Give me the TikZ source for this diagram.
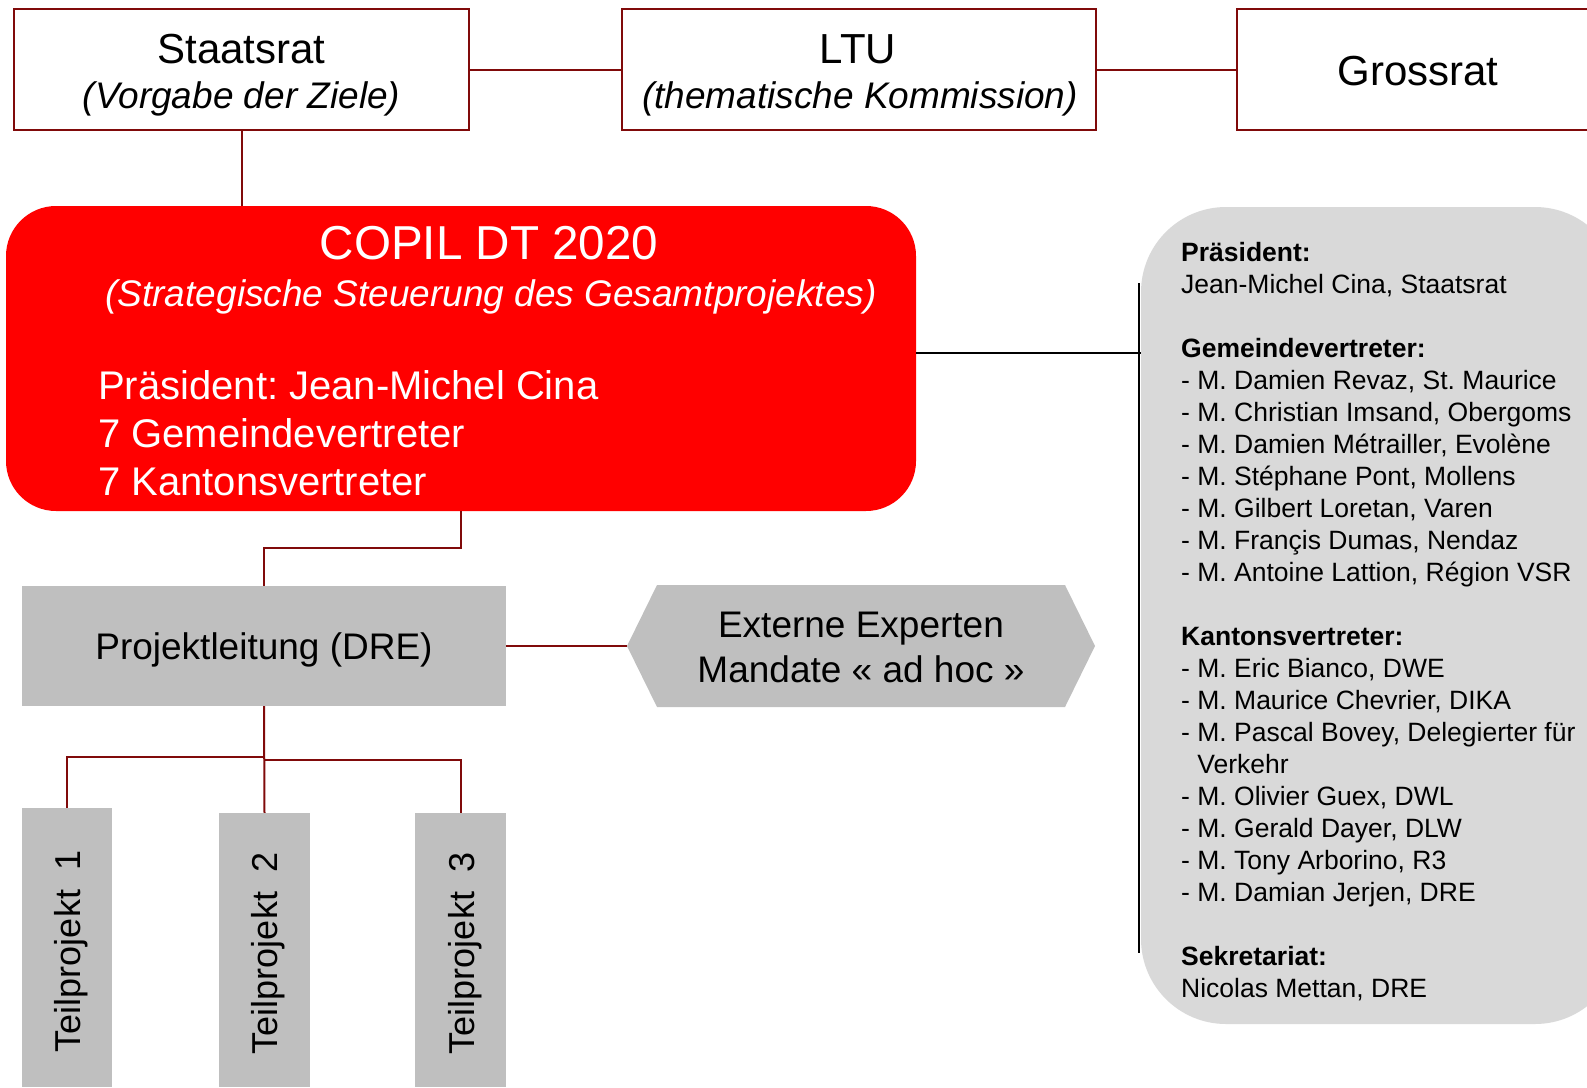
\documentclass[tikz,border=0pt]{standalone}
\usepackage{fontspec}
\setmainfont{Liberation Sans}
\frenchspacing
\definecolor{dred}{RGB}{128,10,10}
\definecolor{copilred}{RGB}{255,0,0}
\definecolor{pgray}{RGB}{191,191,191}
\definecolor{lgray}{RGB}{217,217,217}
\newcommand{\fsz}[2]{\fontsize{#1}{#2}\selectfont}
\begin{document}
\frenchspacing
\begin{tikzpicture}[x=1pt,y=-1pt,
  topbox/.style={draw=dred,line width=2pt,fill=white,inner sep=0pt},
  conn/.style={draw=dred,line width=2pt},
  blk/.style={draw=black,line width=2.5pt},
  graybox/.style={fill=pgray,inner sep=0pt},
  txt/.style={inner sep=0pt},
]
\useasboundingbox (0,0) rectangle (1587,1087);
\clip (0,0) rectangle (1587,1087);

% top boxes
\node[topbox,minimum width=455pt,minimum height=121pt] (sr) at (241.5,69.5) {};
\node[topbox,minimum width=474pt,minimum height=121pt] (ltu) at (859,69.5) {};
\node[topbox,minimum width=383pt,minimum height=121pt] (gr) at (1428.5,69.5) {};
\node[txt,anchor=base,font=\fsz{42}{50}] (srt) at (241.5,63) {Staatsrat};
\node[txt,anchor=base,font=\fsz{37}{44}\itshape] (srs) at (241.5,108) {(Vorgabe der Ziele)};
\node[txt,anchor=base,font=\fsz{42}{50}] (ltut) at (858,63) {LTU};
\node[txt,anchor=base,font=\fsz{37}{44}\itshape] (ltus) at (860,108) {(thematische Kommission)};
\node[txt,anchor=base,font=\fsz{42}{50}] (grt) at (1418,85) {Grossrat};
\draw[conn] (sr.east) -- (ltu.west);
\draw[conn] (ltu.east) -- (gr.west);

% COPIL
\draw[conn] (sr.south) -- ++(0,80);
\node[fill=copilred,rounded corners=50pt,minimum width=910pt,minimum height=305pt,inner sep=0pt] (copil) at (461,358.5) {};
\node[txt,anchor=base,text=white,font=\fsz{47.6}{57}] (c1) at (489,259) {COPIL DT 2020};
\node[txt,anchor=base,text=white,font=\fsz{37}{44}\itshape] (c2) at (491,306) {(Strategische Steuerung des Gesamtprojektes)};
\node[txt,anchor=base west,text=white,font=\fsz{40}{48}] (c3) at (98,399) {Präsident: Jean-Michel Cina};
\node[txt,anchor=base west,text=white,font=\fsz{40}{48}] (c4) at (98,447) {7 Gemeindevertreter};
\node[txt,anchor=base west,text=white,font=\fsz{40}{48}] (c5) at (98,495) {7 Kantonsvertreter};

% right gray box
\node[fill=lgray,rounded corners=85pt,minimum width=479pt,minimum height=817pt,inner sep=0pt] (rb) at (1380.5,615.5) {};
\coordinate (bk) at (1141,353);
\draw[blk] (copil.east |- bk) -- (bk);
\coordinate (vt) at (1139,283);
\coordinate (vb) at (1139,953);
\draw[black,line width=2pt] (vt) -- (vb);
\foreach \t [count=\i from 0] in {
  {\textbf{Präsident:}},
  {Jean-Michel Cina, Staatsrat},
  {},
  {\textbf{Gemeindevertreter:}},
  {- M. Damien Revaz, St. Maurice},
  {- M. Christian Imsand, Obergoms},
  {- M. Damien Métrailler, Evolène},
  {- M. Stéphane Pont, Mollens},
  {- M. Gilbert Loretan, Varen},
  {- M. Françis Dumas, Nendaz},
  {- M. Antoine Lattion, Région VSR},
  {},
  {\textbf{Kantonsvertreter:}},
  {- M. Eric Bianco, DWE},
  {- M. Maurice Chevrier, DIKA},
  {- M. Pascal Bovey, Delegierter für},
  {\hphantom{- }Verkehr},
  {- M. Olivier Guex, DWL},
  {- M. Gerald Dayer, DLW},
  {- M. Tony Arborino, R3},
  {- M. Damian Jerjen, DRE},
  {},
  {\textbf{Sekretariat:}},
  {Nicolas Mettan, DRE}}
{
  \node[txt,anchor=base west,font=\fsz{26.5}{32}] (r\i) at (1181,{261+32*\i}) {\t};
}

% Projektleitung
\node[graybox,minimum width=484pt,minimum height=120pt] (pl) at (264,646) {};
\node[txt,anchor=base,font=\fsz{37}{44}] (plt) at (264,659) {Projektleitung (DRE)};
\draw[conn] (copil.south) -- ++(0,37) -| (pl.north);

% Externe Experten
\fill[pgray] (627,646) -- (657,585) -- (1065,585) -- (1095,646) -- (1065,707) -- (657,707) -- cycle;
\coordinate (extw) at (627,646);
\node[txt,anchor=base,font=\fsz{37}{45}] (ex1) at (861,637) {Externe Experten};
\node[txt,anchor=base,font=\fsz{37}{45}] (ex2) at (861,682) {Mandate « ad hoc »};
\draw[conn] (pl.east) -- (extw);

% Teilprojekte
\node[graybox,minimum width=90pt,minimum height=279pt] (tp1) at (67,947.5) {};
\node[graybox,minimum width=91pt,minimum height=274pt] (tp2) at (264.5,950) {};
\node[graybox,minimum width=91pt,minimum height=274pt] (tp3) at (460.5,950) {};
\node[txt,rotate=90,font=\fsz{36}{43}] (tp1t) at (71,951) {Teilprojekt\ \ 1};
\node[txt,rotate=90,font=\fsz{36}{43}] (tp2t) at (268,953) {Teilprojekt\ \ 2};
\node[txt,rotate=90,font=\fsz{36}{43}] (tp3t) at (465,953) {Teilprojekt\ \ 3};
\coordinate (jl) at (264,757);
\coordinate (jr) at (264,760);
\draw[conn] (pl.south) -- (tp2.north);
\draw[conn] (jl) -| (tp1.north);
\draw[conn] (jr) -| (tp3.north);
\end{tikzpicture}
\end{document}
